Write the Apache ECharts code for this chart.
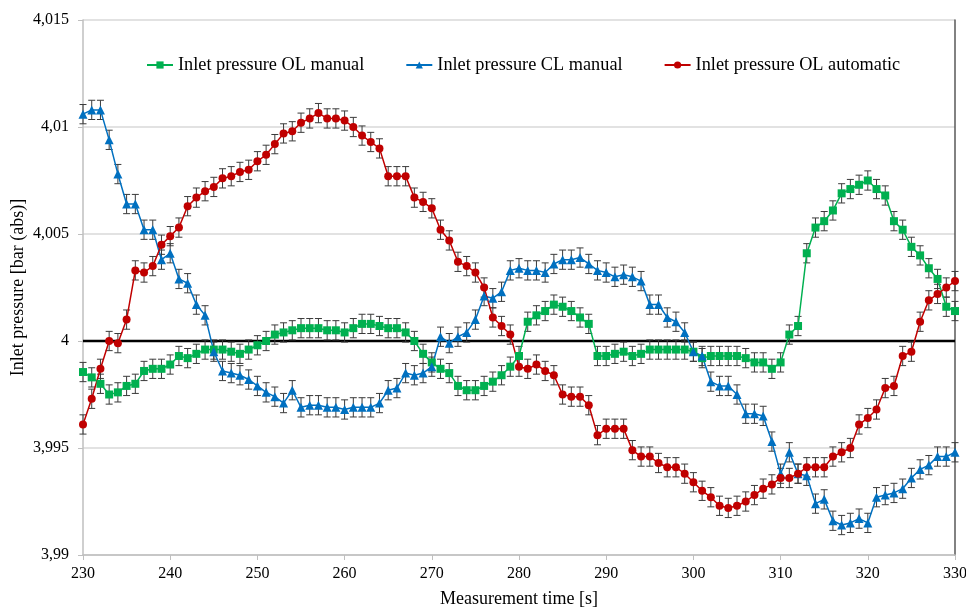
<!DOCTYPE html>
<html>
<head>
<meta charset="utf-8">
<script src="https://cdn.jsdelivr.net/npm/echarts@6/dist/echarts.min.js"></script>
<style>
html,body{margin:0;padding:0;background:#fff;}
#chart{width:966px;height:610px;}
</style>
</head>
<body>
<div id="chart"></div>
<script>
var timeSeconds = [230,231,232,233,234,235,236,237,238,239,240,241,242,243,244,245,246,247,248,249,250,251,252,253,254,255,256,257,258,259,260,261,262,263,264,265,266,267,268,269,270,271,272,273,274,275,276,277,278,279,280,281,282,283,284,285,286,287,288,289,290,291,292,293,294,295,296,297,298,299,300,301,302,303,304,305,306,307,308,309,310,311,312,313,314,315,316,317,318,319,320,321,322,323,324,325,326,327,328,329,330];

var olManual = [3.99855,3.9983,3.9980,3.9975,3.9976,3.9979,3.9980,3.9986,3.9987,3.9987,
3.9989,3.9993,3.9992,3.9994,3.9996,3.9996,3.9996,3.9995,3.9994,3.9996,
3.9998,4.0000,4.0003,4.0004,4.0005,4.0006,4.0006,4.0006,4.0005,4.0005,
4.0004,4.0006,4.0008,4.0008,4.0007,4.0006,4.0006,4.0004,4.0000,3.9994,
3.9990,3.9987,3.9985,3.9979,3.9977,3.9977,3.9979,3.9981,3.9984,3.9988,
3.9993,4.0009,4.0012,4.0014,4.0017,4.0016,4.0014,4.0011,4.0008,3.9993,
3.9993,3.9994,3.9995,3.9993,3.9994,3.9996,3.9996,3.9996,3.9996,3.9996,
3.9995,3.9992,3.9993,3.9993,3.9993,3.9993,3.9992,3.9990,3.9990,3.9987,
3.9990,4.0003,4.0007,4.0041,4.0053,4.0056,4.0061,4.0069,4.0071,4.0073,
4.0075,4.0071,4.0068,4.0056,4.0052,4.0044,4.0040,4.0034,4.0029,4.0016,
4.0014];

var clManual = [4.0106,4.0108,4.0108,4.0094,4.0078,4.0064,4.0064,4.0052,4.0052,4.0038,
4.0041,4.0029,4.0027,4.0017,4.0012,3.9995,3.9986,3.9985,3.9984,3.9982,
3.9979,3.9976,3.9974,3.9971,3.9977,3.9969,3.9970,3.9970,3.9969,3.9969,
3.9968,3.9969,3.9969,3.9969,3.9971,3.9977,3.9978,3.9985,3.9984,3.9985,
3.9988,4.0002,3.9999,4.0002,4.0004,4.0010,4.0021,4.0020,4.0023,4.0033,
4.0034,4.0033,4.0033,4.0032,4.0036,4.0038,4.0038,4.0039,4.0036,4.0033,
4.0032,4.0030,4.0031,4.0030,4.0028,4.0017,4.0017,4.0011,4.0009,4.0004,
3.9995,3.9993,3.9981,3.9979,3.9979,3.9975,3.9966,3.9966,3.9965,3.9953,
3.9938,3.9948,3.9938,3.9937,3.9924,3.9926,3.9916,3.9914,3.9915,3.9917,
3.9915,3.9927,3.9928,3.9929,3.9931,3.9936,3.9940,3.9942,3.9946,3.9946,
3.9948];

var olAutomatic = [3.9961,3.9973,3.9987,4.0000,3.9999,4.0010,4.0033,4.0032,4.0035,4.0045,
4.0049,4.0053,4.0063,4.0067,4.0070,4.0072,4.0076,4.0077,4.0079,4.0080,
4.0084,4.0087,4.0092,4.0097,4.0098,4.0102,4.0104,4.01065,4.0104,4.0104,
4.0103,4.0100,4.0096,4.0093,4.0090,4.0077,4.0077,4.0077,4.0067,4.0065,
4.0062,4.0052,4.0047,4.0037,4.0035,4.0032,4.0025,4.0011,4.0007,4.0003,
3.9988,3.9987,3.9989,3.9986,3.9984,3.9975,3.9974,3.9974,3.9970,3.9956,
3.9959,3.9959,3.9959,3.9949,3.9946,3.9946,3.9943,3.9941,3.9941,3.9938,
3.9934,3.9930,3.9927,3.9923,3.9922,3.9923,3.9925,3.9928,3.9931,3.9933,
3.9936,3.9936,3.9938,3.9941,3.9941,3.9941,3.9946,3.9948,3.9950,3.9961,
3.9964,3.9968,3.9978,3.9979,3.9993,3.9995,4.0009,4.0019,4.0022,4.0025,
4.0028];

var errorHalf = 0.00045;
var referenceLevel = 4;
var seriesNames = ['Inlet pressure OL manual','Inlet pressure CL manual','Inlet pressure OL automatic'];
var xTicks = [230,240,250,260,270,280,290,300,310,320,330];
var yTickLabels = ['3,99','3,995','4','4,005','4,01','4,015'];

var colors = ['#00B050','#0070C0','#C00000'];
var symbols = ['rect','triangle','circle'];
var symbolSizes = [8,9,8];
var FONT = '"Liberation Serif","Times New Roman",serif';

function pairs(vals){ return timeSeconds.map(function(t,i){ return [t, vals[i]]; }); }
function errData(vals){ return timeSeconds.map(function(t,i){ return [t, vals[i]-errorHalf, vals[i]+errorHalf]; }); }

function errRender(params, api){
  var x = api.value(0), lo = api.value(1), hi = api.value(2);
  var p1 = api.coord([x, lo]), p2 = api.coord([x, hi]);
  var w = 3.5;
  var st = {stroke:'#3a3a3a', lineWidth:1};
  return {type:'group', children:[
    {type:'line', shape:{x1:p1[0],y1:p1[1],x2:p2[0],y2:p2[1]}, style:st},
    {type:'line', shape:{x1:p1[0]-w,y1:p1[1],x2:p1[0]+w,y2:p1[1]}, style:st},
    {type:'line', shape:{x1:p2[0]-w,y1:p2[1],x2:p2[0]+w,y2:p2[1]}, style:st}
  ]};
}

var allVals = [olManual, clManual, olAutomatic];
var series = [];
allVals.forEach(function(vals, k){
  series.push({
    type:'custom', name: seriesNames[k] + ' error', renderItem: errRender,
    data: errData(vals), encode:{x:0, y:[1,2]}, z:3, silent:true
  });
});
allVals.forEach(function(vals, k){
  series.push({
    type:'line', name: seriesNames[k], data: pairs(vals),
    symbol: symbols[k], symbolSize: symbolSizes[k], showAllSymbol:true,
    lineStyle:{color:colors[k], width:1.5},
    itemStyle:{color:colors[k]},
    z:4, animation:false
  });
});
series.push({
  type:'line', name:'ref', data:[[230, referenceLevel],[330, referenceLevel]],
  symbol:'none', lineStyle:{color:'#000', width:2.5}, z:2, silent:true, animation:false
});

var chart = echarts.init(document.getElementById('chart'), null, {renderer:'canvas'});
chart.setOption({
  animation:false,
  backgroundColor:'#fff',
  textStyle:{fontFamily:FONT},
  grid:{left:83, right:11, top:20, bottom:55, containLabel:false, outerBoundsMode:'none'},
  legend:{
    data: seriesNames, top:51, left:141,
    itemWidth:26, itemHeight:9, itemGap:41,
    textStyle:{fontFamily:FONT, fontSize:18.3, color:'#000'}
  },
  xAxis:{
    type:'value', min:230, max:330, interval:10,
    name:'Measurement time [s]', nameLocation:'middle', nameGap:35,
    nameTextStyle:{fontFamily:FONT, fontSize:18, color:'#000'},
    axisLine:{show:true, lineStyle:{color:'#bfbfbf', width:1.5}},
    axisTick:{show:true, length:5, lineStyle:{color:'#bfbfbf'}},
    axisLabel:{fontFamily:FONT, fontSize:16, color:'#000', margin:11},
    splitLine:{show:false}
  },
  yAxis:[{
    type:'value', min:3.99, max:4.015, interval:0.005,
    name:'Inlet pressure [bar (abs)]', nameLocation:'middle', nameGap:56, nameMoveOverlap:false,
    nameTextStyle:{fontFamily:FONT, fontSize:18, color:'#000'},
    axisLine:{show:true, lineStyle:{color:'#bfbfbf', width:1.5}},
    axisTick:{show:true, length:5, lineStyle:{color:'#bfbfbf'}},
    axisLabel:{fontFamily:FONT, fontSize:16, color:'#000', margin:14,
      formatter:function(v){
        var idx = Math.round((v-3.99)/0.005);
        return yTickLabels[idx] !== undefined ? yTickLabels[idx] : String(v).replace('.',',');
      }},
    splitLine:{show:true, lineStyle:{color:'#d9d9d9', width:1.5}}
  },{
    type:'value', position:'right', min:3.99, max:4.015, interval:0.005,
    axisLine:{show:true, lineStyle:{color:'#595959', width:1.5}},
    axisTick:{show:false}, axisLabel:{show:false}, splitLine:{show:false}
  }],
  series: series
});
</script>
</body>
</html>
